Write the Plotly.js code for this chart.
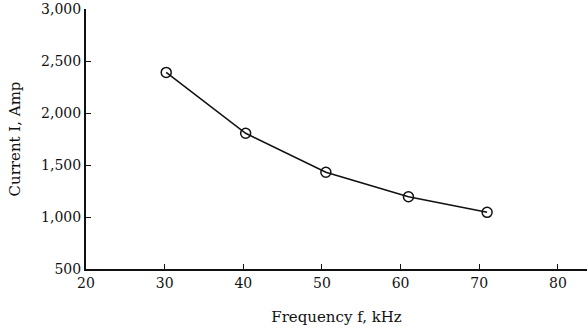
<!DOCTYPE html>
<html>
<head>
<meta charset="utf-8">
<script src="https://cdn.plot.ly/plotly-3.0.1.min.js"></script>
<style>html,body{margin:0;padding:0;background:#fff;}#chart{width:587px;height:329px;}</style>
</head>
<body>
<div id="chart"></div>
<script>
const frequency = [30.2, 40.3, 50.5, 61.0, 71.0];
const current = [2390, 1805, 1430, 1195, 1045];
const xTicks = [20, 30, 40, 50, 60, 70, 80];
const yTicks = [500, 1000, 1500, 2000, 2500, 3000];

const font = {family: '"DejaVu Serif", "Liberation Serif", serif', color: '#111'};

Plotly.newPlot('chart', [{
  x: frequency,
  y: current,
  mode: 'lines+markers',
  line: {color: '#111', width: 1.5},
  marker: {symbol: 'circle-open', size: 10, color: '#111', line: {width: 1.5, color: '#111'}},
  showlegend: false
}], {
  width: 587, height: 329,
  margin: {l: 86, r: 0, t: 9, b: 60},
  paper_bgcolor: '#fff', plot_bgcolor: '#fff',
  font: Object.assign({size: 13}, font),
  xaxis: {
    range: [20, 83.7], tickvals: xTicks, ticktext: xTicks.map(String),
    showgrid: false, zeroline: false, showline: true, linecolor: '#111', linewidth: 2,
    ticks: 'inside', ticklen: 5, tickcolor: '#111', tickwidth: 1,
    tickfont: Object.assign({size: 14}, font),
    title: {text: 'Frequency f, kHz', font: Object.assign({size: 15}, font), standoff: 22}
  },
  yaxis: {
    range: [500, 3000], tickvals: yTicks, tickformat: ',d',
    showgrid: false, zeroline: false, showline: true, linecolor: '#111', linewidth: 2,
    ticks: 'inside', ticklen: 5, tickcolor: '#111', tickwidth: 1,
    tickfont: Object.assign({size: 14}, font),
    title: {text: 'Current I, Amp', font: Object.assign({size: 15}, font), standoff: 17}
  }
}, {staticPlot: true, displayModeBar: false});
</script>
</body>
</html>
